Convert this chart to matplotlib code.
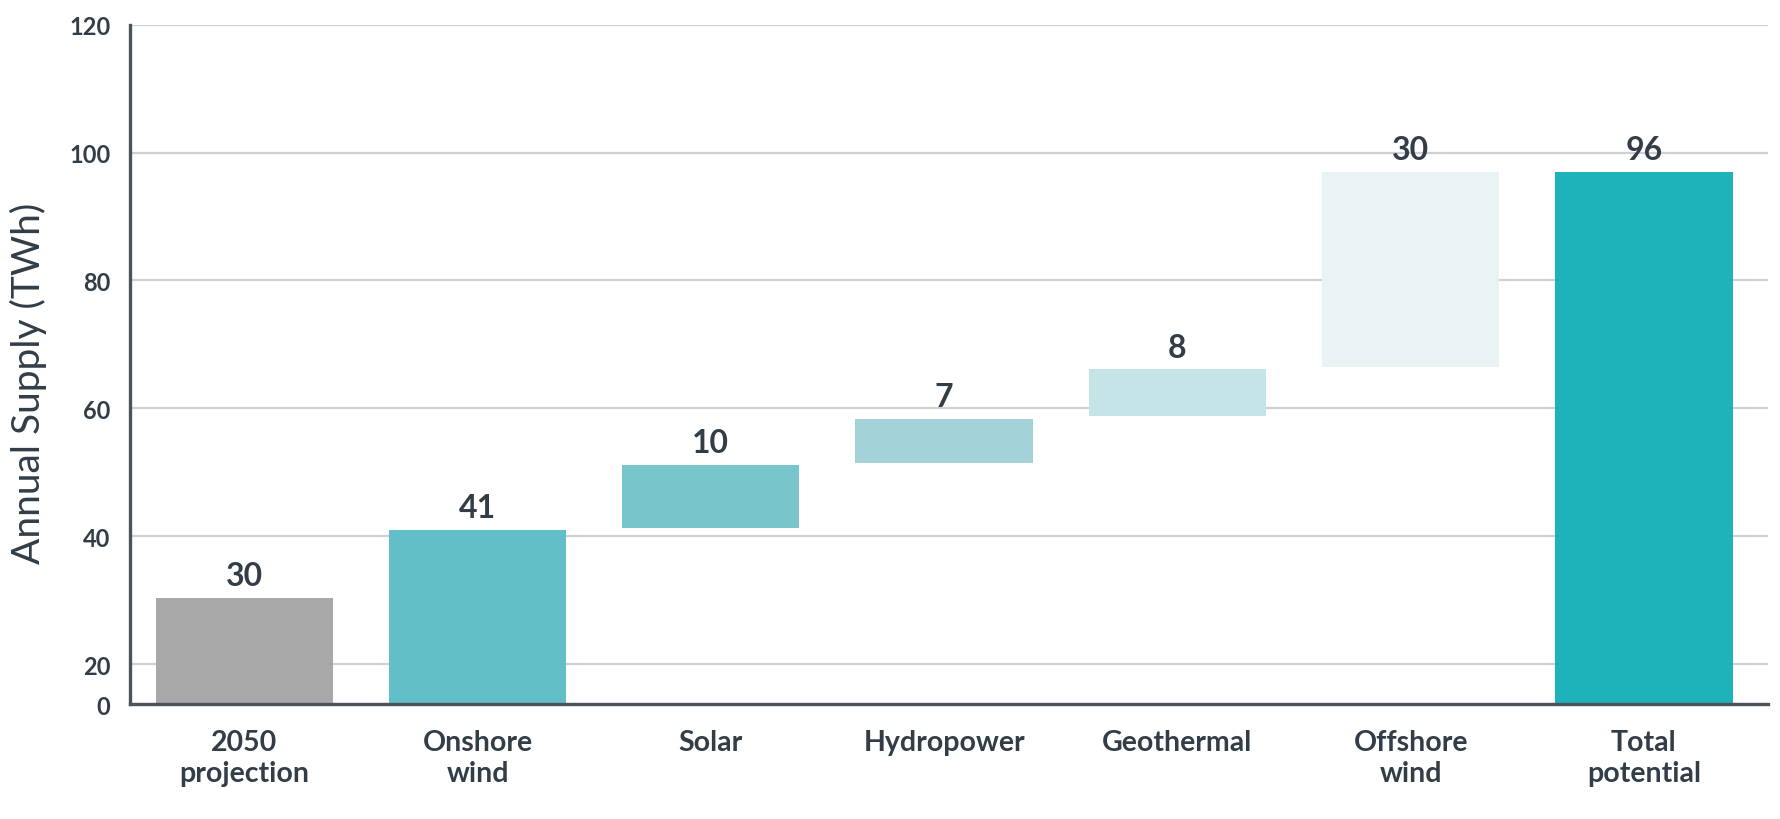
"""
Waterfall of annual renewable supply potential (TWh)
"""

import matplotlib.pyplot as plt

# ---------------------------------------------------------------------------
# Data
# ---------------------------------------------------------------------------

CATEGORIES = ["2050\nprojection", "Onshore\nwind", "Solar", "Hydropower",
              "Geothermal", "Offshore\nwind", "Total\npotential"]
BAR_BOTTOMS = [0, 0, 41.3, 51.5, 58.8, 66.5, 0]
BAR_TOPS = [30.3, 41.0, 51.1, 58.4, 66.1, 97.0, 97.0]
VALUE_LABELS = ["30", "41", "10", "7", "8", "30", "96"]

Y_TICKS = [20, 40, 60, 80, 100, 120]
Y_TICK_LABELS = ["20", "40", "60", "80", "100", "120"]
Y_BOTTOM = 13.75          # axis is cut; the bottom is labelled "0"

COLORS = ["#a8a8a8", "#62bfc7", "#78c5cc", "#a3d3d9",
          "#c5e4e7", "#e9f3f4", "#1eb3ba"]

TEXT = "#333d47"
AXIS = "#4d5359"
GRID = "#d0d0d0"

plt.rcParams["font.family"] = ["Lato", "DejaVu Sans"]

# ---------------------------------------------------------------------------
# Plot
# ---------------------------------------------------------------------------

fig = plt.figure(figsize=(17.8, 8.2), dpi=100)
ax = fig.add_axes([0.073, 0.1402, 0.920, 0.8285])

x = range(len(CATEGORIES))
# bars that start at zero are clipped at the cut bottom of the axis
bottoms = [max(b, Y_BOTTOM) if b == 0 else b for b in BAR_BOTTOMS]
heights = [t - b for t, b in zip(BAR_TOPS, bottoms)]

ax.bar(x, heights, bottom=bottoms, width=0.76, color=COLORS, zorder=2)

for i, (top, lab) in enumerate(zip(BAR_TOPS, VALUE_LABELS)):
    ax.annotate(lab, (i, top), xytext=(0, 16), textcoords="offset points",
                ha="center", va="center", fontsize=23, fontweight="bold",
                color=TEXT, zorder=3)

ax.set_xlim(-0.49, 6.53)
ax.set_ylim(Y_BOTTOM, 120)

ax.set_yticks([Y_BOTTOM] + Y_TICKS)
ax.set_yticklabels(["0"] + Y_TICK_LABELS, fontsize=17, color=TEXT,
                   fontweight="bold")
ax.set_xticks(list(x))
ax.set_xticklabels(CATEGORIES, fontsize=20.5, color=TEXT, fontweight="bold",
                   linespacing=1.25, va="top")

ax.tick_params(axis="y", length=0, pad=14)
ax.tick_params(axis="x", length=0, pad=18)

ax.grid(axis="y", color=GRID, linewidth=1.6, zorder=0)
ax.set_axisbelow(True)

for side in ["top", "right"]:
    ax.spines[side].set_visible(False)
for side in ["left", "bottom"]:
    ax.spines[side].set_color(AXIS)
    ax.spines[side].set_linewidth(2.4)

fig.text(0.016, 0.533, "Annual Supply (TWh)", rotation=90, ha="center",
         va="center", fontsize=28, color=TEXT)

plt.savefig("out.png", dpi=100)
